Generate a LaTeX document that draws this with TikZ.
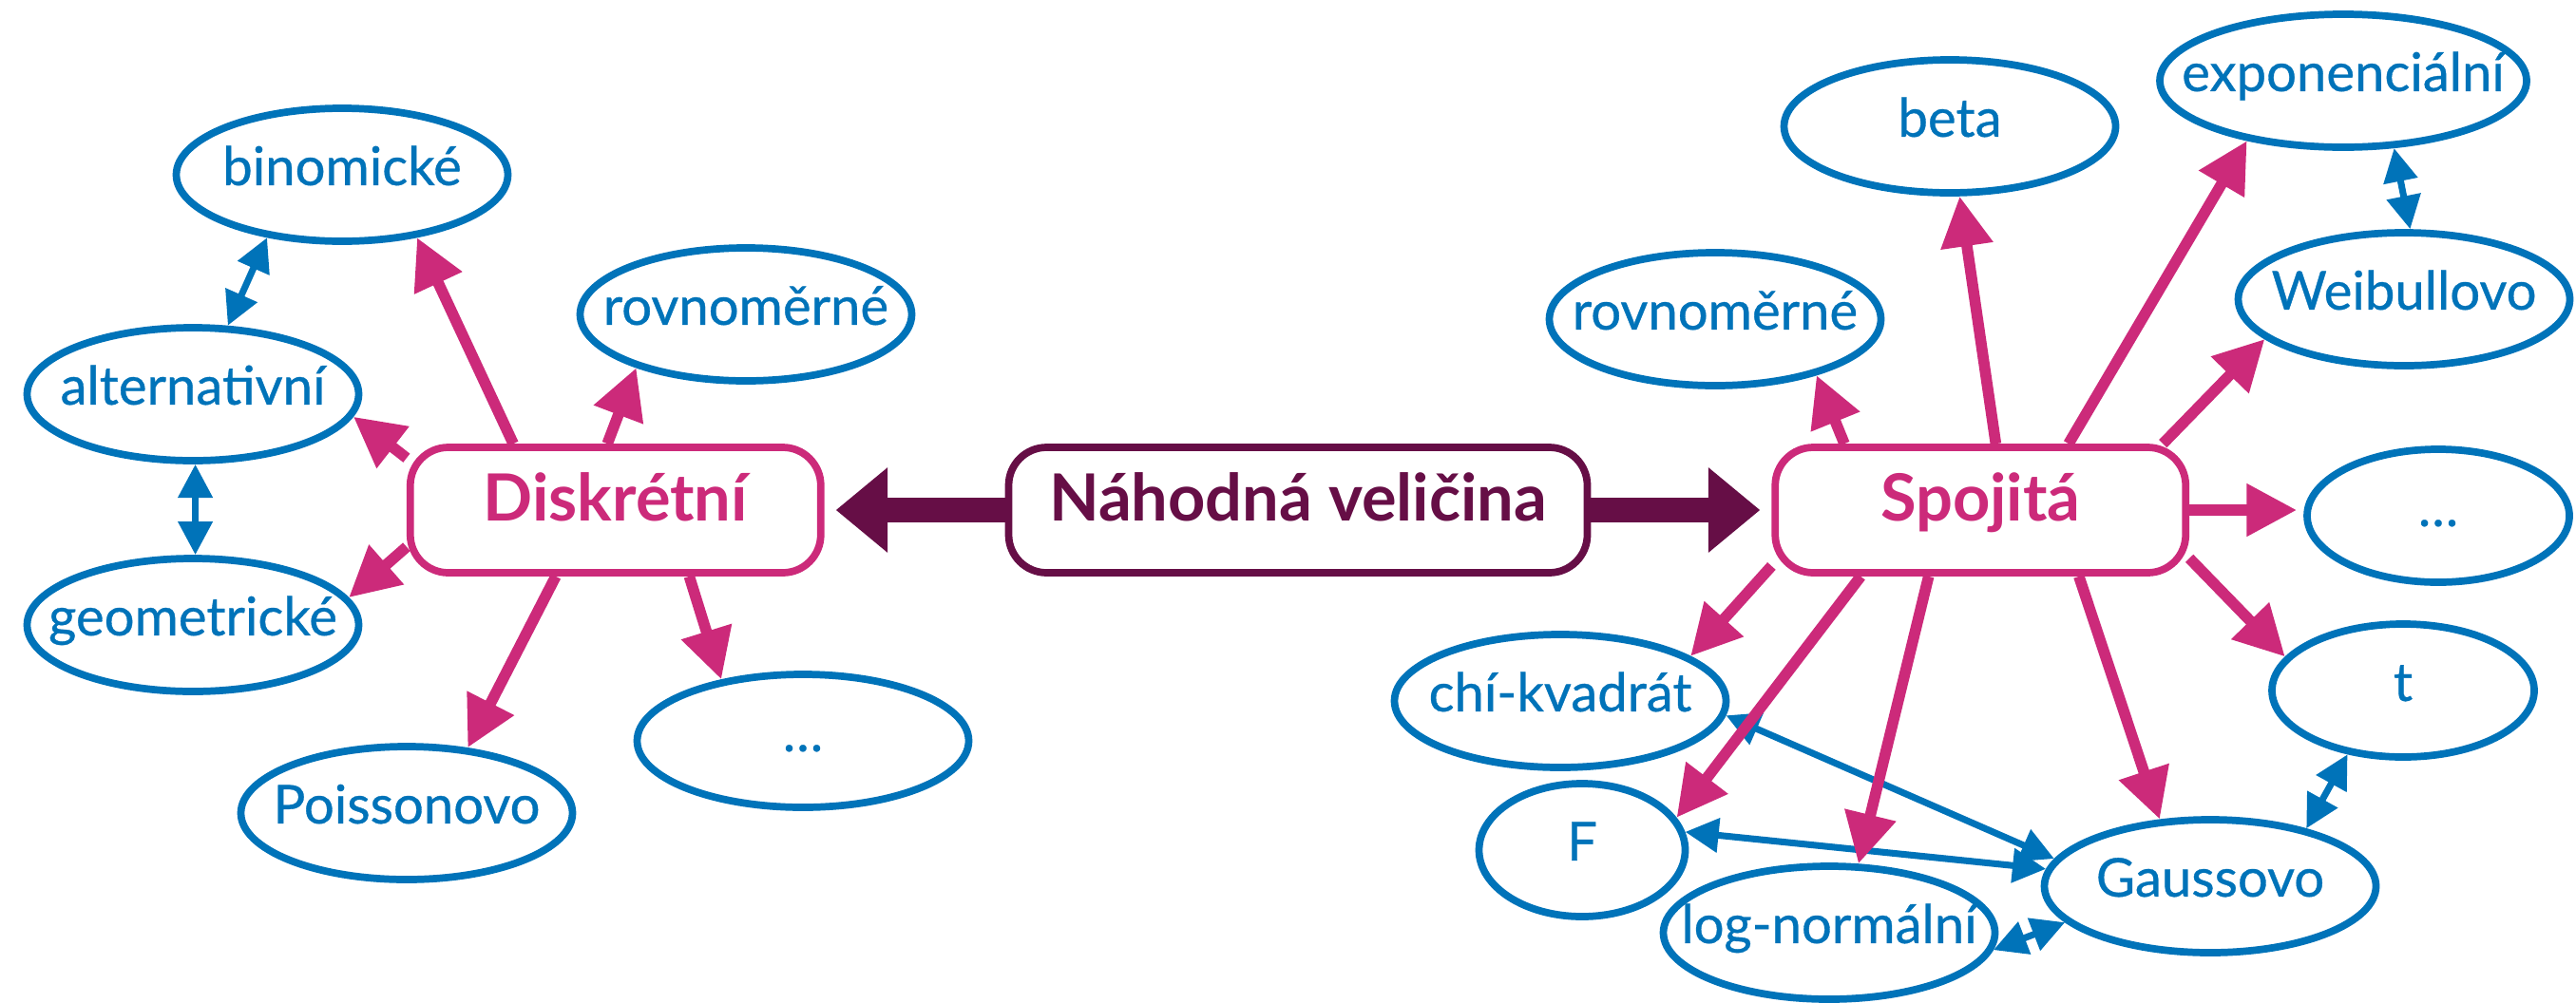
\documentclass[tikz,border=0pt]{standalone}
\usepackage{fontspec}
\setmainfont{Lato}
\newfontfamily\distfont[FakeBold=0.6]{Lato}
\usepackage{xcolor}
\definecolor{rvblue}{RGB}{0,115,185}
\definecolor{rvpink}{RGB}{204,42,122}
\definecolor{rvplum}{RGB}{102,14,70}
\usetikzlibrary{arrows.meta,positioning,shapes.geometric}
\tikzset{
  hub/.style={draw,rounded corners=0.4cm,line width=2.2pt,inner sep=2pt,minimum width=4.32cm,minimum height=1.32cm,font=\fontsize{19.5}{22}\selectfont\bfseries,text height=0.64em,text depth=0pt,fill=white},
  dist/.style={ellipse,draw=rvblue,line width=2.2pt,text=rvblue,inner xsep=-0.7cm,inner ysep=0pt,minimum width=3.49cm,minimum height=1.40cm,font=\distfont\fontsize{16}{19}\selectfont,text height=0.62em,text depth=0pt,fill=white},
  link/.style={-{Triangle[length=15pt,width=15pt]},draw=rvpink,line width=3.3pt},
  pair/.style={{Triangle[length=10pt,width=10pt]}-{Triangle[length=10pt,width=10pt]},draw=rvblue,line width=2pt},
  bigflow/.style={-{Triangle[length=15.5pt,width=24.5pt]},draw=rvplum,line width=7.4pt,shorten >=0.12cm},
}
\begin{document}
\begin{tikzpicture}
\useasboundingbox (0,0) rectangle (27.11,10.55);
% hubs
\node[hub,draw=rvplum,text=rvplum,minimum width=6.09cm] (nv) at (13.66,5.18) {Náhodná veličina};
\node[hub,draw=rvpink,text=rvpink,left=1.9cm of nv] (dis) {Diskrétní};
\node[hub,draw=rvpink,text=rvpink,right=1.9cm of nv] (spo) {Spojitá};

% discrete distributions
\node[dist] (bin) at (3.60,8.71) {binomické};
\node[dist] (rovL) at (7.85,7.24) {rovnoměrné};
\node[dist] (alt) at (2.03,6.40) {alternativní};
\node[dist] (geo) at (2.03,3.97) {geometrické};
\node[dist] (poi) at (4.28,1.99) {Poissonovo};
\node[dist] (dotsL) at (8.45,2.75) {…};

% continuous distributions
\node[dist] (beta) at (20.52,9.22) {beta};
\node[dist,minimum width=3.86cm] (expo) at (24.66,9.70) {exponenciální};
\node[dist] (rovR) at (18.05,7.19) {rovnoměrné};
\node[dist] (wei) at (25.30,7.40) {Weibullovo};
\node[dist,minimum width=2.76cm] (dotsR) at (25.66,5.12) {…};
\node[dist,minimum width=2.76cm] (t) at (25.29,3.28) {t};
\node[dist] (chi) at (16.42,3.17) {chí-kvadrát};
\node[dist,minimum width=2.17cm] (F) at (16.65,1.60) {F};
\node[dist] (logn) at (19.25,0.73) {log-normální};
\node[dist] (gau) at (23.26,1.22) {Gaussovo};

% relations between distributions
\draw[pair] (bin.220) -- (alt.63);
\draw[pair] (alt.-88) -- (geo.88);
\draw[pair] (expo.-53) -- (wei.85);
\draw[pair] (t.229) -- (gau.31);
\draw[pair] (chi.-5) -- (gau.170);
\draw[pair] (F.10) -- (gau.174);
\draw[pair] (logn.-6) -- (gau.194);

% discrete branch
\draw[link] (dis.147) -- (bin.-40);
\draw[link] (dis.97) -- (rovL.206);
\draw[link] (dis.166) -- (alt.-8);
\draw[link] (dis.190) -- (geo.10);
\draw[link] (dis.228) -- (poi.47);
\draw[link] (dis.-42) -- (dotsL.143);

% continuous branch
\draw[link] (spo.154) -- (rovR.-29);
\draw[link] (spo.77) -- (beta.-82);
\draw[link] (spo.37) -- (expo.212);
\draw[link] (spo.20) -- (wei.196);
\draw[link,shorten >=0.07cm] (spo.east) -- (spo.east -| dotsR.west);
\draw[link] (spo.-13) -- (t.164);
\draw[link] (spo.-34) -- (gau.127);
\draw[link] (spo.232) -- (logn.67);
\draw[link] (spo.209) -- (F.19);
\draw[link] (spo.195) -- (chi.19);

% main split
\draw[bigflow] (nv.west) -- (dis.east);
\draw[bigflow] (nv.east) -- (spo.west);
\end{tikzpicture}
\end{document}
